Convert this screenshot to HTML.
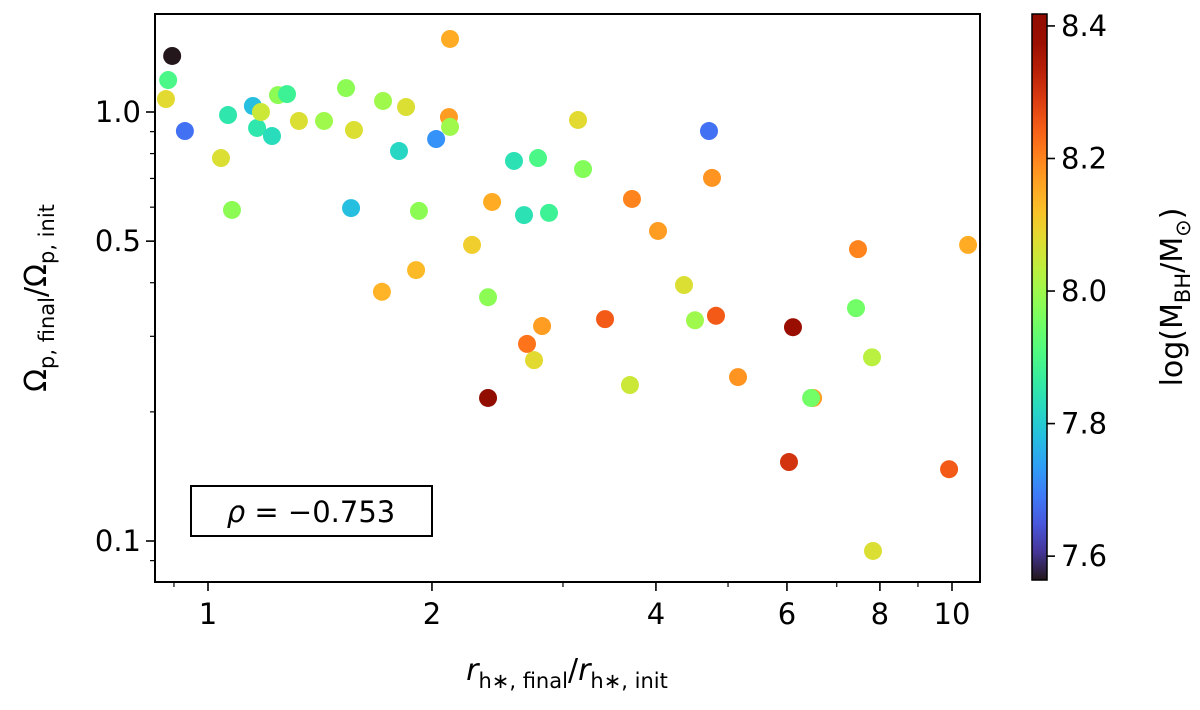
<!DOCTYPE html>
<html><head><meta charset="utf-8">
<style>
html,body{margin:0;padding:0;background:#fff;}
svg{display:block;font-family:"DejaVu Sans","Liberation Sans",sans-serif;}
</style></head>
<body>
<svg id="chart" width="1200" height="710" viewBox="0 0 1200 710" xmlns="http://www.w3.org/2000/svg">
<defs>
<linearGradient id="cbgrad" x1="0" y1="1" x2="0" y2="0"></linearGradient>
</defs>
<g id="plot"></g>
<g id="axes"></g>
<g id="cbar"></g>
</svg>
<script>
const xVals=[0.895,0.884,0.878,0.931,1.041,1.064,1.077,1.149,1.164,1.178,1.219,1.242,1.277,1.325,1.432,1.533,1.557,1.571,1.719,1.806,1.846,1.713,1.904,1.921,2.026,2.115,2.108,2.115,2.264,2.379,2.379,2.409,2.578,2.659,2.684,2.743,2.777,2.812,2.873,3.143,3.192,3.417,3.714,3.691,4.026,4.363,4.514,4.714,4.758,4.817,5.157,6.038,6.113,6.506,6.466,7.476,7.430,7.807,7.831,9.91,10.51];
const yVals=[1.351,1.187,1.072,0.903,0.781,0.984,0.591,1.033,0.918,1.0,0.879,1.095,1.101,0.953,0.953,1.137,0.597,0.908,1.061,0.811,1.027,0.381,0.428,0.588,0.865,1.480,0.973,0.923,0.490,0.370,0.2155,0.617,0.769,0.575,0.288,0.264,0.781,0.317,0.582,0.958,0.736,0.329,0.627,0.231,0.528,0.395,0.327,0.903,0.702,0.335,0.241,0.1528,0.315,0.2155,0.2155,0.479,0.349,0.268,0.0948,0.147,0.490];
const mVals=[7.56,7.9,8.08,7.68,8.07,7.85,7.98,7.78,7.85,8.05,7.83,7.98,7.88,8.07,8.0,7.98,7.78,8.07,8.0,7.82,8.07,8.14,8.13,7.98,7.72,8.15,8.17,8.0,8.1,7.98,8.42,8.15,7.84,7.84,8.22,8.08,7.9,8.17,7.88,8.08,7.97,8.25,8.2,8.05,8.17,8.07,8.0,7.68,8.18,8.25,8.18,8.3,8.38,8.17,7.95,8.2,7.95,8.03,8.07,8.25,8.15];
const xTickVals=[1,2,4,6,8,10];
const xTickLabels=["1","2","4","6","8","10"];
const xMinorVals=[0.9,3,5,7,9];
const yTickVals=[1.0,0.5,0.1];
const yTickLabels=["1.0","0.5","0.1"];
const yMinorVals=[0.09,0.2,0.3,0.4,0.6,0.7,0.8,0.9];
const cTickVals=[7.6,7.8,8.0,8.2,8.4];
const cTickLabels=["7.6","7.8","8.0","8.2","8.4"];
const rhoText="−0.753";

const L=155,R=980,T=14,B=582;
const xs=v=>208+744*Math.log10(v);
const ys=v=>112-429*Math.log10(v);
const cMin=7.564,cMax=8.418;
const cTop=14,cBot=580,cX=1032,cW=15;
const cs=v=>cBot-(v-cMin)/(cMax-cMin)*(cBot-cTop);
function turbo(t){t=Math.max(0,Math.min(1,t));
 const r=0.13572138+t*(4.61539260+t*(-42.66032258+t*(132.13108234+t*(-152.94239396+t*59.28637943))));
 const g=0.09140261+t*(2.19418839+t*(4.84296658+t*(-14.18503333+t*(4.27729857+t*2.82956604))));
 const b=0.10667330+t*(12.64194608+t*(-60.58204836+t*(110.36276771+t*(-89.90310912+t*27.34824973))));
 const c=x=>Math.round(Math.max(0,Math.min(1,x))*255);
 return `rgb(${c(r)},${c(g)},${c(b)})`;}
const NS="http://www.w3.org/2000/svg";
function mk(tag,attrs,parent){const e=document.createElementNS(NS,tag);for(const k in attrs)e.setAttribute(k,attrs[k]);parent.appendChild(e);return e;}
const plot=document.getElementById('plot'),axes=document.getElementById('axes'),cbar=document.getElementById('cbar');
for(let i=0;i<xVals.length;i++){
 const c=mk('circle',{cx:xs(xVals[i]),cy:ys(yVals[i]),r:9,fill:turbo((mVals[i]-cMin)/(cMax-cMin))},plot);
 
 
}
const frame=mk('rect',{x:L,y:T,width:R-L,height:B-T,fill:'none',stroke:'#000','stroke-width':2},axes);


xTickVals.forEach((v,i)=>{const x=xs(v);
 mk('line',{x1:x,x2:x,y1:B,y2:B+9,stroke:'#000','stroke-width':1.6},axes);
 const t=mk('text',{x:x,y:B+42,'text-anchor':'middle','font-size':29},axes);t.textContent=xTickLabels[i];
 
 });
xMinorVals.forEach(v=>{const x=xs(v);mk('line',{x1:x,x2:x,y1:B,y2:B+5,stroke:'#000','stroke-width':1.2},axes);});
yTickVals.forEach((v,i)=>{const y=ys(v);
 mk('line',{x1:L-9,x2:L,y1:y,y2:y,stroke:'#000','stroke-width':1.6},axes);
 const t=mk('text',{x:L-14,y:y+10,'text-anchor':'end','font-size':29},axes);t.textContent=yTickLabels[i];
 
 });
yMinorVals.forEach(v=>{const y=ys(v);if(y<B&&y>T)mk('line',{x1:L-5,x2:L,y1:y,y2:y,stroke:'#000','stroke-width':1.2},axes);});
const xt=mk('text',{x:567,y:680,'text-anchor':'middle','font-size':30},axes);
xt.innerHTML='<tspan font-style="italic">r</tspan><tspan font-size="21" dy="8">h∗, final</tspan><tspan dy="-8">/</tspan><tspan font-style="italic">r</tspan><tspan font-size="21" dy="8">h∗, init</tspan>';


const yt=mk('text',{x:0,y:0,'text-anchor':'middle','font-size':30,transform:'translate(46,298) rotate(-90)'},axes);
yt.innerHTML='Ω<tspan font-size="21" dy="8">p, final</tspan><tspan dy="-8">/Ω</tspan><tspan font-size="21" dy="8">p, init</tspan>';


const box=mk('g',{},axes);


mk('rect',{x:191,y:486,width:241,height:50,fill:'#fff',stroke:'#000','stroke-width':2},box);
const rt=mk('text',{x:311,y:522,'text-anchor':'middle','font-size':29},box);
rt.innerHTML='<tspan font-style="italic">ρ</tspan> = '+rhoText;
const grad=document.getElementById('cbgrad');
for(let i=0;i<=20;i++){mk('stop',{offset:(i/20),'stop-color':turbo(i/20)},grad);}
const cr=mk('rect',{x:cX,y:cTop,width:cW,height:cBot-cTop,fill:'url(#cbgrad)',stroke:'#000','stroke-width':1.5},cbar);


cTickVals.forEach((v,i)=>{const y=cs(v);
 mk('line',{x1:cX+cW,x2:cX+cW+8,y1:y,y2:y,stroke:'#000','stroke-width':1.6},cbar);
 const t=mk('text',{x:cX+cW+14,y:y+10,'font-size':29},cbar);t.textContent=cTickLabels[i];
 
 });
const ct=mk('text',{x:0,y:0,'text-anchor':'middle','font-size':30,transform:'translate(1182,297) rotate(-90)'},cbar);
ct.innerHTML='log(M<tspan font-size="21" dy="8">BH</tspan><tspan dy="-8">/M</tspan><tspan font-size="21" dy="8">⊙</tspan><tspan dy="-8">)</tspan>';


</script>
</body></html>
